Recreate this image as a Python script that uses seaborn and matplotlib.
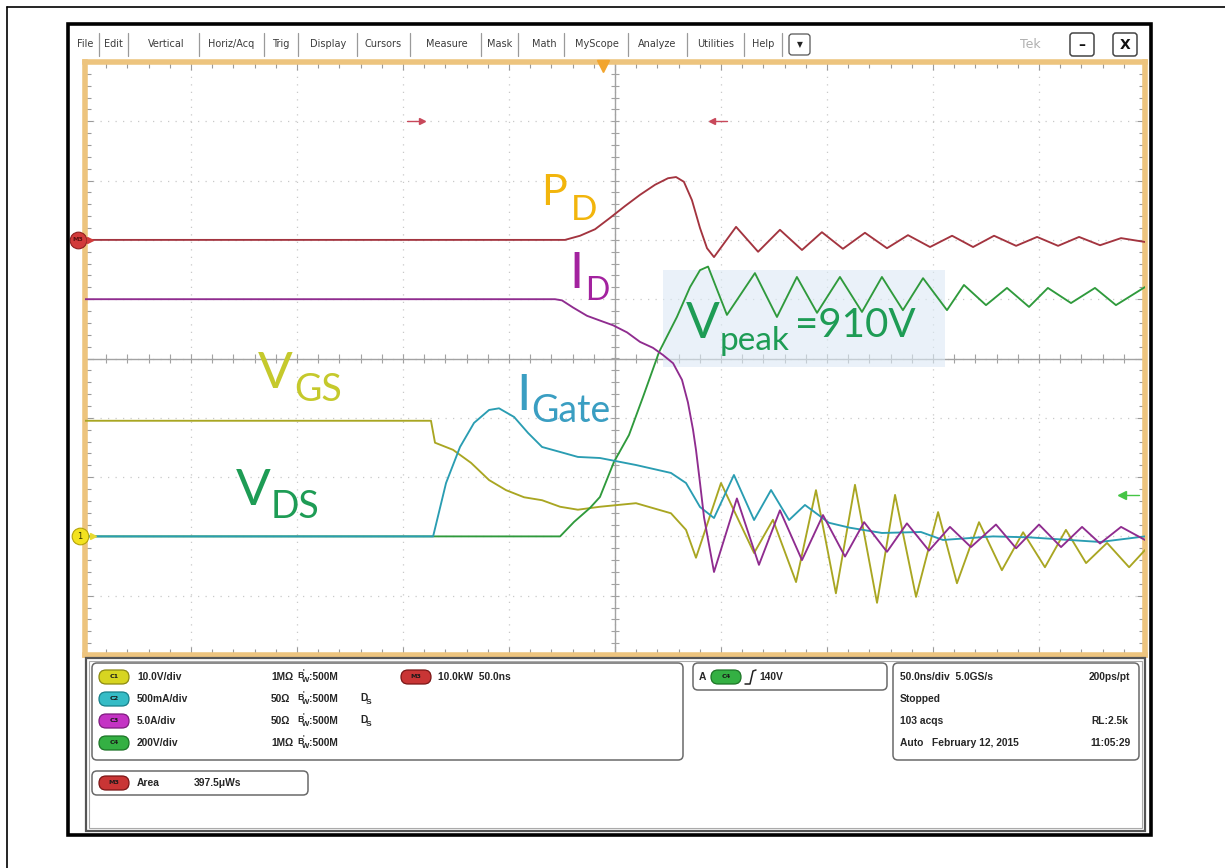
import matplotlib
matplotlib.use("Agg")
import matplotlib.pyplot as plt
from matplotlib.patches import Rectangle, FancyBboxPatch
from matplotlib.transforms import blended_transform_factory
import numpy as np
import pandas as pd
import seaborn as sns

W, H = 1225, 868

# ---- acquisition setup ----
TIME_PER_DIV = 50.0          # ns/div, trigger at screen centre
H_DIVS = 10
V_DIVS = 10
# vertical setup per channel: units per division, ground position (div)
CH = {
    "VGS":   dict(scale=10.0,  pos=-3.0),   # C1  [V]
    "IGATE": dict(scale=500.0, pos=-3.0),   # C2  [mA]
    "ID":    dict(scale=5.0,   pos=-3.0),   # C3  [A]
    "VDS":   dict(scale=200.0, pos=-3.0),   # C4  [V]
    "PD":    dict(scale=10.0,  pos=2.0),    # M3  [kW]
}
TRIGGER_LEVEL_V = 140.0
AREA_GATE_NS = [-91.0, 45.8]
TRIGGER_POS_NS = -5.5

# ---- waveforms (time in ns) ----
vgs_t = [-250, -86.8, -84.9, -76.4, -67.9, -59.4, -51.4, -42.9, -34.4, -25.9,
         -17.5, -7.1, 9.9, 26.4, 33.5, 38.2, 50.0, 65.6, 74.5, 85.4, 94.8,
         104.2, 113.2, 123.6, 132.1, 142.0, 152.4, 161.3, 171.7, 182.5, 192.5,
         202.8, 212.7, 222.2, 232.1, 242.5, 250]
vgs_v = [19.5, 19.5, 15.8, 14.6, 12.4, 9.5, 7.8, 6.6, 6.1, 5.0,
         4.5, 5.0, 5.6, 3.9, 1.1, -3.6, 9.0, -2.8, 2.8, -7.7, 7.8,
         -9.6, 8.7, -11.2, 7.0, -10.2, 4.1, -7.9, 2.4, -5.7, 0.7,
         -5.2, 1.1, -4.5, -1.1, -5.2, -2.3]

igate_t = [-250, -85.8, -79.7, -73.1, -66.5, -59.4, -54.7, -47.6, -41.0, -34.4,
           -25.9, -17.5, -7.1, 9.9, 26.4, 33.5, 40.1, 46.7, 56.1, 65.6,
           73.6, 82.1, 89.6, 100.9, 110.8, 125.9, 144.3, 154.7, 178.3, 195.3,
           228.8, 250]
igate_ma = [0, 0, 450, 754, 957, 1066, 1080, 1007, 872, 754,
            712, 670, 661, 602, 535, 450, 248, 155, 518, 138,
            391, 138, 265, 115, 73, 29, 37, -30, 0, -8,
            -47, 0]

id_t = [-250, -28.3, -25.0, -19.8, -13.2, -7.1, -0.9, 5.7, 11.8, 17.9,
        22.6, 27.4, 31.6, 34.4, 36.8, 38.2, 40.1, 42.0, 46.7, 57.5,
        67.9, 77.8, 88.2, 98.1, 108.5, 117.5, 128.3, 137.7, 148.1, 158.0,
        167.9, 179.7, 189.2, 200.0, 210.4, 220.3, 228.8, 238.7, 250]
id_a = [20.0, 20.0, 19.9, 19.3, 18.6, 18.2, 17.8, 17.2, 16.4, 15.9,
        15.3, 14.6, 13.2, 11.3, 9.0, 7.3, 4.5, 1.6, -3.0, 3.2,
        -2.4, 2.2, -2.0, 1.8, -1.7, 1.2, -1.3, 1.1, -1.2, 0.8,
        -0.9, 1.0, -1.0, 1.0, -0.9, 0.8, -0.6, 0.8, -0.3]

vds_t = [-250, -25.9, -19.3, -11.8, -7.1, -0.5, 6.6, 13.2, 20.8, 29.2,
         35.4, 40.1, 43.9, 52.8, 66.0, 76.4, 85.8, 95.3, 106.1, 116.5,
         125.9, 135.8, 145.3, 156.6, 164.6, 175.0, 184.9, 195.3, 204.2, 215.1,
         226.4, 236.3, 250]
vds_v = [0, 0, 49, 96, 133, 251, 342, 470, 622, 740,
         841, 898, 910, 747, 888, 740, 875, 754, 875, 757,
         875, 763, 871, 763, 848, 780, 838, 774, 838, 787,
         838, 780, 841]

pd_t = [-250, -23.6, -16.5, -9.4, -2.4, 4.7, 11.8, 18.9, 25.0, 28.8,
        32.5, 36.3, 40.1, 43.4, 46.7, 57.1, 67.5, 77.8, 88.2, 97.6,
        107.5, 117.9, 128.3, 138.2, 148.6, 159.0, 168.9, 178.8, 189.2, 199.1,
        209.0, 218.9, 228.8, 238.7, 250]
pd_kw = [0, 0, 0.7, 1.8, 3.7, 5.7, 7.6, 9.3, 10.4, 10.6,
         9.8, 6.7, 2.0, -1.4, -2.9, 2.2, -2.0, 1.7, -1.7, 1.3,
         -1.5, 1.2, -1.4, 0.8, -1.2, 0.7, -1.2, 0.7, -1.0, 0.5,
         -1.0, 0.5, -0.9, 0.3, -0.35]

TRACE_COLORS = {"VGS": "#A9A622", "VDS": "#2F9A3C", "IGATE": "#2A9DB2",
                "ID": "#8F2C8F", "PD": "#A3343F"}


def to_div(values, ch):
    return np.asarray(values, dtype=float) / CH[ch]["scale"] + CH[ch]["pos"]


frames = []
for name, t, v in [("VGS", vgs_t, vgs_v), ("VDS", vds_t, vds_v),
                   ("IGATE", igate_t, igate_ma), ("ID", id_t, id_a),
                   ("PD", pd_t, pd_kw)]:
    frames.append(pd.DataFrame({"t": t, "div": to_div(v, name), "channel": name}))
waves = pd.concat(frames, ignore_index=True)

# ---- figure ----
sns.set_theme(style="white")
plt.rcParams["font.family"] = ["Lato", "DejaVu Sans"]
fig = plt.figure(figsize=(W / 100, H / 100), dpi=100)
fig.patch.set_facecolor("white")

# scope graticule
ax = fig.add_axes([85 / W, 1 - 655 / H, 1060 / W, 593 / H])
half_t = TIME_PER_DIV * H_DIVS / 2
ax.set_xlim(-half_t, half_t)
ax.set_ylim(-V_DIVS / 2, V_DIVS / 2)
ax.set_facecolor("white")
ax.set_xticks(np.arange(-half_t, half_t + 1, TIME_PER_DIV))
ax.set_xticks(np.arange(-half_t, half_t + 1, TIME_PER_DIV / 5), minor=True)
ax.set_yticks(np.arange(-V_DIVS / 2, V_DIVS / 2 + 0.01, 1))
ax.set_yticks(np.arange(-V_DIVS / 2, V_DIVS / 2 + 0.01, 0.2), minor=True)
ax.tick_params(which="both", direction="in", top=True, right=True, bottom=True,
               left=True, labelbottom=False, labelleft=False, color="#9a9a9a",
               width=0.8)
ax.tick_params(which="major", length=6)
ax.tick_params(which="minor", length=4)
ax.grid(which="major", color="#c9c9c9", linestyle=(0, (1, 5)), linewidth=0.9)
for sp in ax.spines.values():
    sp.set_color("#EDC47E")
    sp.set_linewidth(4)

grid_c = "#a2a2a2"
ax.axhline(0, color=grid_c, lw=1, zorder=1.2)
ax.axvline(0, color=grid_c, lw=1, zorder=1.2)
ax.vlines(np.arange(-half_t, half_t + 1, TIME_PER_DIV / 5), -0.07, 0.07,
          color=grid_c, lw=0.8, zorder=1.2)
ax.hlines(np.arange(-V_DIVS / 2, V_DIVS / 2 + 0.01, 0.2), -1.9, 1.9,
          color=grid_c, lw=0.8, zorder=1.2)

# highlight box behind the peak annotation
ax.add_patch(Rectangle((22.6, -0.14), 133.1, 1.63, facecolor="#DCE9F5",
                       alpha=0.6, edgecolor="none", zorder=1.5))

for name in ["VGS", "VDS", "IGATE", "ID", "PD"]:
    sns.lineplot(data=waves[waves["channel"] == name], x="t", y="div",
                 color=TRACE_COLORS[name], linewidth=1.35, estimator=None,
                 sort=False, legend=False, ax=ax, zorder=3,
                 solid_joinstyle="round")
ax.set_xlabel("")
ax.set_ylabel("")

# area gates, trigger position and trigger level markers
ax.plot([AREA_GATE_NS[0] - 7, AREA_GATE_NS[0]], [4, 4], color="#C8485A", lw=1, zorder=4)
ax.plot([AREA_GATE_NS[0]], [4], marker=">", ms=4, color="#C8485A", zorder=4)
ax.plot([AREA_GATE_NS[1] + 7, AREA_GATE_NS[1]], [4, 4], color="#C8485A", lw=1, zorder=4)
ax.plot([AREA_GATE_NS[1]], [4], marker="<", ms=4, color="#C8485A", zorder=4)
ax.plot([TRIGGER_POS_NS], [4.93], marker="v", ms=8, color="#F2A52E",
        clip_on=False, zorder=6)
trig_div = TRIGGER_LEVEL_V / CH["VDS"]["scale"] + CH["VDS"]["pos"]
ax.plot([239, 247], [trig_div, trig_div], color="#45C545", lw=1, zorder=4)
ax.plot([239], [trig_div], marker="<", ms=6, color="#45C545", zorder=4)

# ground markers at the left edge
bt = blended_transform_factory(ax.transAxes, ax.transData)
ax.plot([-0.0066], [CH["PD"]["pos"]], marker="o", ms=12, color="#D23A3A",
        mec="#8E1F1F", mew=0.8, transform=bt, clip_on=False, zorder=7)
ax.text(-0.0066, CH["PD"]["pos"], "M3", transform=bt, ha="center", va="center",
        fontsize=4.5, color="#5a1010", fontweight="bold", zorder=8,
        family="DejaVu Sans")
ax.plot([0.0048], [CH["PD"]["pos"]], marker=">", ms=4, color="#D23A3A",
        transform=bt, clip_on=False, zorder=7)
ax.plot([-0.0047], [CH["VGS"]["pos"]], marker="o", ms=12, color="#F3E21F",
        mec="#B5A30A", mew=0.8, transform=bt, clip_on=False, zorder=7)
ax.text(-0.0047, CH["VGS"]["pos"], "1", transform=bt, ha="center", va="center",
        fontsize=6, color="#333300", zorder=8, family="DejaVu Sans")
ax.plot([0.0075], [CH["VGS"]["pos"]], marker=">", ms=5, color="#E8DA30",
        transform=bt, clip_on=False, zorder=7)

# ---- overlay in pixel coordinates ----
ov = fig.add_axes([0, 0, 1, 1], zorder=5)
ov.set_xlim(0, W)
ov.set_ylim(H, 0)
ov.axis("off")
ov.patch.set_alpha(0)

ov.plot([7, 7], [7, H], color="black", lw=1.2)
ov.plot([7, W], [7, 7], color="black", lw=1.2)
ov.add_patch(Rectangle((68, 24), 1083, 811, fill=False, ec="black", lw=2.6))

# menu bar
menu = ["File", "Edit", "Vertical", "Horiz/Acq", "Trig", "Display", "Cursors",
        "Measure", "Mask", "Math", "MyScope", "Analyze", "Utilities", "Help"]
menu_x = [85, 113, 166, 231, 281, 328, 383, 447, 500, 544, 597, 657, 716, 763]
menu_sep = [99, 128, 199, 264, 298, 357, 410, 481, 518, 564, 628, 687, 744, 782]
for label, x in zip(menu, menu_x):
    ov.text(x, 44, label, ha="center", va="center", fontsize=7,
            color="#3c3c3c", family="DejaVu Sans")
for x in menu_sep:
    ov.plot([x, x], [33, 56], color="#9a9a9a", lw=0.9)
ov.add_patch(FancyBboxPatch((789, 34), 21, 21, boxstyle="round,pad=0,rounding_size=3",
                            fc="white", ec="#555", lw=0.9))
ov.text(799.5, 44.5, "▼", ha="center", va="center", fontsize=5.5, color="#222",
        family="DejaVu Sans")
ov.text(1030, 44, "Tek", ha="center", va="center", fontsize=9, color="#b0b0b0",
        family="DejaVu Sans")
for x0, sym in [(1070, "–"), (1113, "X")]:
    ov.add_patch(FancyBboxPatch((x0, 33), 24, 23, boxstyle="round,pad=0,rounding_size=3",
                                fc="white", ec="#444", lw=1.1))
    ov.text(x0 + 12, 45, sym, ha="center", va="center", fontsize=10,
            color="#111", family="DejaVu Sans", fontweight="bold")


# trace annotations
def tag(x, y, main, sub, color, size, sub_size, sx, sy, tail=None, tail_size=None, tx=0, ty=0):
    ov.text(x, y, main, ha="left", va="baseline", fontsize=size, color=color)
    ov.text(sx, sy, sub, ha="left", va="baseline", fontsize=sub_size, color=color)
    if tail:
        ov.text(tx, ty, tail, ha="left", va="baseline", fontsize=tail_size, color=color)


tag(541, 205, "P", "D", "#F2B50C", 31, 25, 571, 220)
tag(569, 288, "I", "D", "#A3229F", 36, 23, 585, 300)
tag(686, 338, "V", "peak", "#1E9C55", 36, 24, 720, 350,
    tail="={:.0f}V".format(max(vds_v)), tail_size=29, tx=795, ty=337)
tag(258, 388, "V", "GS", "#C5C92C", 37, 27, 294, 401)
tag(516, 410, "I", "Gate", "#3A9EC2", 37, 27, 531, 422)
tag(236, 505, "V", "DS", "#1E9C55", 37, 27, 271, 518)

# ---- status panel ----
ov.add_patch(Rectangle((86, 658), 1059, 173, fill=False, ec="#555", lw=1.6))
ov.add_patch(Rectangle((89, 661), 1053, 167, fill=False, ec="#aaa", lw=0.8))
for (x0, y0, w, h) in [(92, 663, 591, 97), (693, 663, 194, 27),
                       (893, 663, 246, 97), (92, 771, 216, 24)]:
    ov.add_patch(FancyBboxPatch((x0, y0), w, h, boxstyle="round,pad=0,rounding_size=5",
                                fc="white", ec="#6a6a6a", lw=1.1))

PF = dict(family="Liberation Sans", fontweight="bold", fontsize=7.4, color="#262626",
          va="center", ha="left")


def badge(x, y, text, fc, ec):
    ov.add_patch(FancyBboxPatch((x, y - 7), 30, 14, boxstyle="round,pad=0,rounding_size=7",
                                fc=fc, ec=ec, lw=0.9))
    ov.text(x + 15, y, text, ha="center", va="center", fontsize=4.6, color="#1a1a1a",
            family="DejaVu Sans", fontweight="bold")


rows_y = [677, 699, 721, 743]
chan_rows = [("C1", "#D7D521", "#8C8A10", "10.0V/div", "1MΩ", False),
             ("C2", "#35BCC6", "#17808A", "500mA/div", "50Ω", True),
             ("C3", "#C433C4", "#7E1A7E", "5.0A/div", "50Ω", True),
             ("C4", "#34B043", "#1C7426", "200V/div", "1MΩ", False)]
for y, (cn, fc, ec, vdiv, term, dsp) in zip(rows_y, chan_rows):
    badge(99, y, cn, fc, ec)
    ov.text(137, y, vdiv, **PF)
    ov.text(271, y, term, **PF)
    ov.text(297, y - 1, "B", **{**PF, "fontsize": 6.4})
    ov.text(302, y + 3, "W", **{**PF, "fontsize": 5.6})
    ov.text(303, y - 5, "'", **{**PF, "fontsize": 5})
    ov.text(309, y, ":500M", **PF)
    if dsp:
        ov.text(360, y - 1, "D", **PF)
        ov.text(366, y + 3, "S", **{**PF, "fontsize": 6})
badge(401, 677, "M3", "#C93535", "#7A1515")
ov.text(438, 677, "10.0kW  50.0ns", **PF)

ov.text(699, 677, "A", **PF)
badge(711, 677, "C4", "#34B043", "#1C7426")
ov.plot([745, 750, 753, 756], [684, 684, 671, 670], color="#222", lw=1.1)
ov.text(759, 677, "{:.0f}V".format(TRIGGER_LEVEL_V), **PF)

ov.text(900, 677, "50.0ns/div  5.0GS/s", **PF)
ov.text(1130, 677, "200ps/pt", **{**PF, "ha": "right"})
ov.text(900, 699, "Stopped", **PF)
ov.text(900, 721, "103 acqs", **PF)
ov.text(1128, 721, "RL:2.5k", **{**PF, "ha": "right"})
ov.text(900, 743, "Auto   February 12, 2015", **PF)
ov.text(1131, 743, "11:05:29", **{**PF, "ha": "right"})

badge(99, 783, "M3", "#C93535", "#7A1515")
ov.text(137, 783, "Area", **PF)
ov.text(194, 783, "397.5μWs", **PF)

fig.savefig("out.png", dpi=100, facecolor="white")
